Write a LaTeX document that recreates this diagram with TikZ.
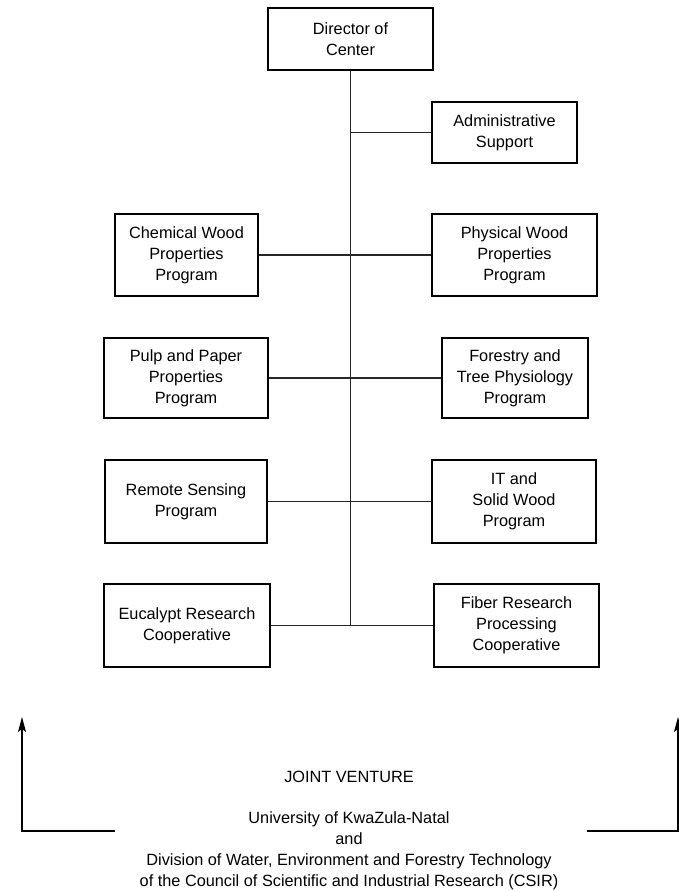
\documentclass[tikz,border=0pt]{standalone}
\usepackage{fontspec}
\setmainfont{Liberation Sans}
\usetikzlibrary{arrows.meta}
\begin{document}
\begin{tikzpicture}[x=1pt,y=-1pt,
  box/.style={draw=black, line width=1.1pt, align=center, inner sep=0pt,
    font=\fontsize{16.3}{20.8}\selectfont},
  conn/.style={draw=black!85, line width=1.1pt},
  arr/.style={draw=black, line width=1.1pt, -{Stealth[length=15pt,width=8pt,inset=3pt]}},
  lbl/.style={align=center, inner sep=0pt, font=\fontsize{16.3}{20.8}\selectfont}]
\useasboundingbox (0,0) rectangle (679,891);

\node[box, minimum width=165pt, minimum height=62pt] (dir) at (350.5,39) {Director of\\Center};
\node[box, minimum width=145pt, minimum height=61pt] (adm) at (504.5,132.5) {Administrative\\Support};

\node[box, minimum width=143pt, minimum height=82pt] (chem) at (186.5,255) {Chemical Wood\\Properties\\Program};
\node[box, minimum width=165pt, minimum height=82pt] (phys) at (514.5,255) {Physical Wood\\Properties\\Program};

\node[box, minimum width=164pt, minimum height=80pt] (pulp) at (186,378) {Pulp and Paper\\Properties\\Program};
\node[box, minimum width=146pt, minimum height=80pt] (fore) at (515,378) {Forestry and\\Tree Physiology\\Program};

\node[box, minimum width=162pt, minimum height=83pt] (rem) at (186,501.5) {Remote Sensing\\Program};
\node[box, minimum width=164pt, minimum height=83pt] (it) at (514,501.5) {IT and\\Solid Wood\\Program};

\node[box, minimum width=166pt, minimum height=83pt] (euc) at (187,625.5) {Eucalypt Research\\Cooperative};
\node[box, minimum width=165pt, minimum height=83pt] (fib) at (516.5,625.5) {Fiber Research\\Processing\\Cooperative};

\coordinate (bot) at (dir.south |- euc.east);
\coordinate (admj) at (dir.south |- adm.west);
\draw[conn] (dir.south) -- (bot);
\draw[conn] (admj) -- (adm.west);
\draw[conn] (chem.east) -- (phys.west);
\draw[conn] (pulp.east) -- (fore.west);
\draw[conn] (rem.east) -- (it.west);
\draw[conn] (euc.east) -- (fib.west);

\node[lbl] (jv) at (349,830) {JOINT VENTURE\\[20.8pt]University of KwaZula-Natal\\and\\Division of Water, Environment and Forestry Technology\\of the Council of Scientific and Industrial Research (CSIR)};

\coordinate (l1) at (115,831);
\coordinate (l2) at (22,831);
\coordinate (l3) at (22,717);
\coordinate (r1) at (587,831);
\coordinate (r2) at (678,831);
\coordinate (r3) at (678,717);
\draw[arr] (l1) -- (l2) -- (l3);
\draw[arr] (r1) -- (r2) -- (r3);
\end{tikzpicture}
\end{document}
